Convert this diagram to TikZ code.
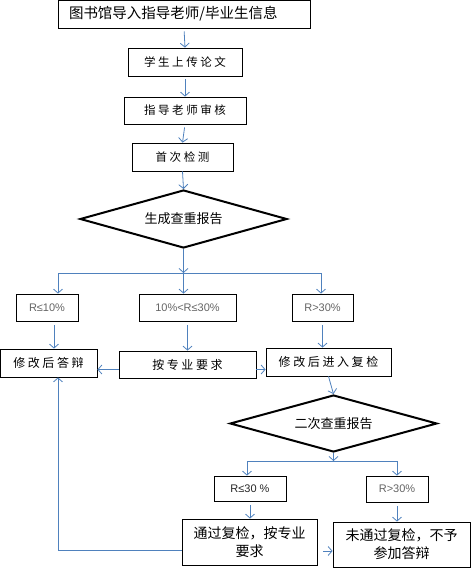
\documentclass[tikz,border=0pt]{standalone}
\usepackage{fontspec}
\setmainfont{Noto Sans CJK SC}
\newfontfamily\latinfont{Liberation Sans}
\usetikzlibrary{shapes.geometric,arrows.meta,positioning,calc}
\definecolor{linkcolor}{RGB}{79,129,189}
\definecolor{labelgray}{RGB}{100,100,100}
\newcommand{\tsp}{\hspace{2.6pt}}

\begin{document}
\begin{tikzpicture}[x=1pt,y=-1pt,
    box/.style={draw, line width=0.8pt, rectangle, inner sep=0pt, font=\fontsize{11.5}{14}\selectfont},
    bigbox/.style={box, font=\fontsize{12}{14}\selectfont},
    rbox/.style={box, text=labelgray, font=\latinfont\fontsize{11}{13}\selectfont},
    cond/.style={draw, line width=2pt, diamond, aspect=3.5, inner sep=0pt, font=\fontsize{13}{15}\selectfont},
    arr/.style={-{Straight Barb[length=4pt,width=9pt]}, linkcolor, line width=0.8pt},
    link/.style={linkcolor, line width=0.8pt}]
    \useasboundingbox (0,0) rectangle (471,574);

    % First check
    \node[box, minimum width=252pt, minimum height=28pt, text width=230pt, align=left,
          font=\fontsize{14.5}{16}\selectfont] (import) at (184,14) {图书馆导入指导老师/毕业生信息};
    \node[box, minimum width=114pt, minimum height=28pt] (upload) at (185,62) {学\tsp 生\tsp 上\tsp 传\tsp 论\tsp 文};
    \node[box, minimum width=122pt, minimum height=27pt] (review) at (185,110.5) {指\tsp 导\tsp 老\tsp 师\tsp 审\tsp 核};
    \node[box, minimum width=101pt, minimum height=28pt] (first) at (182.5,157) {首\tsp 次\tsp 检\tsp 测};
    \node[cond, minimum width=207pt, minimum height=58pt] (report) at (183.5,219) {生成查重报告};

    \draw[arr, shorten <=3pt] (import.south) -- (upload.north);
    \draw[arr, shorten <=3pt] (upload.south) -- (review.north);
    \draw[arr, shorten <=3pt] (review.south) -- (first.north);
    \draw[arr] (first.south) -- (report.north);

    % Branches after first report
    \coordinate (split) at (183.5,273);
    \coordinate (splitl) at (58,273);
    \coordinate (splitr) at (321,273);
    \draw[arr] (report.south) -- (split);
    \draw[link] (splitl) -- (splitr);

    \node[rbox, minimum width=62pt, minimum height=27pt] (r1) at (47,307.5) {R≤10\%};
    \node[rbox, minimum width=97pt, minimum height=27pt] (r2) at (187.5,307.5) {10\%<R≤30\%};
    \node[rbox, minimum width=61pt, minimum height=27pt] (r3) at (322.5,307.5) {R>30\%};

    \foreach \c/\n in {splitl/r1, split/r2, splitr/r3}
        \draw[arr] (\c) -- (\c |- \n.north);

    \node[bigbox, minimum width=97pt, minimum height=28pt] (defend) at (48.5,363) {修\tsp 改\tsp 后\tsp 答\tsp 辩};
    \node[bigbox, minimum width=137pt, minimum height=27pt] (plan) at (187.5,364.5) {按\tsp 专\tsp 业\tsp 要\tsp 求};
    \node[bigbox, minimum width=125pt, minimum height=28pt] (recheck) at (328.5,362) {修\tsp 改\tsp 后\tsp 进\tsp 入\tsp 复\tsp 检};

    \foreach \a/\b/\s in {r1/defend/7, r2/plan/0, r3/recheck/0}
        \draw[arr, shorten <=4pt] ([xshift=\s pt]\a.south) -- ([xshift=\s pt]\a.south |- \b.north);

    \draw[arr] ([yshift=-5pt]plan.west) -- ([yshift=-5pt]plan.west -| defend.east);
    \draw[arr] ([yshift=-5pt]plan.east) -- ([yshift=-5pt]plan.east -| recheck.west);

    % Second check
    \node[cond, minimum width=207pt, minimum height=57pt] (report2) at (333.5,423.5) {二次查重报告};
    \draw[arr] (recheck.south) -- (report2.north);

    \coordinate (split2) at (333.5,461);
    \coordinate (split2l) at (247,461);
    \coordinate (split2r) at (397,461);
    \draw[arr] (report2.south) -- (split2);
    \draw[link] (split2l) -- (split2r);

    \node[rbox, text=black!85, minimum width=72pt, minimum height=25pt] (ok) at (250,488.5) {R≤30 \%};
    \node[rbox, minimum width=62pt, minimum height=26pt] (fail) at (397,489) {R>30\%};

    \foreach \c/\n in {split2l/ok, split2r/fail}
        \draw[arr] (\c) -- (\c |- \n.north);

    \node[box, align=center, minimum width=135pt, minimum height=46pt,
          font=\fontsize{14}{18}\selectfont] (pass) at (249.5,542) {通过复检，按专业\\要求};
    \node[box, align=center, minimum width=137pt, minimum height=45pt,
          font=\fontsize{14}{18}\selectfont] (nopass) at (401.5,544.5) {未通过复检，不予\\参加答辩};

    \draw[arr, shorten <=4pt] (ok.south) -- (ok.south |- pass.north);
    \draw[arr, shorten <=4pt] (fail.south) -- (fail.south |- nopass.north);
    \draw[arr, shorten <=6pt] ([yshift=-9pt]pass.east) -- ([yshift=-9pt]pass.east -| nopass.west);

    % Back to defence
    \draw[arr] ([yshift=-8pt]pass.west) -| ([xshift=9.5pt]defend.south);
\end{tikzpicture}
\end{document}
